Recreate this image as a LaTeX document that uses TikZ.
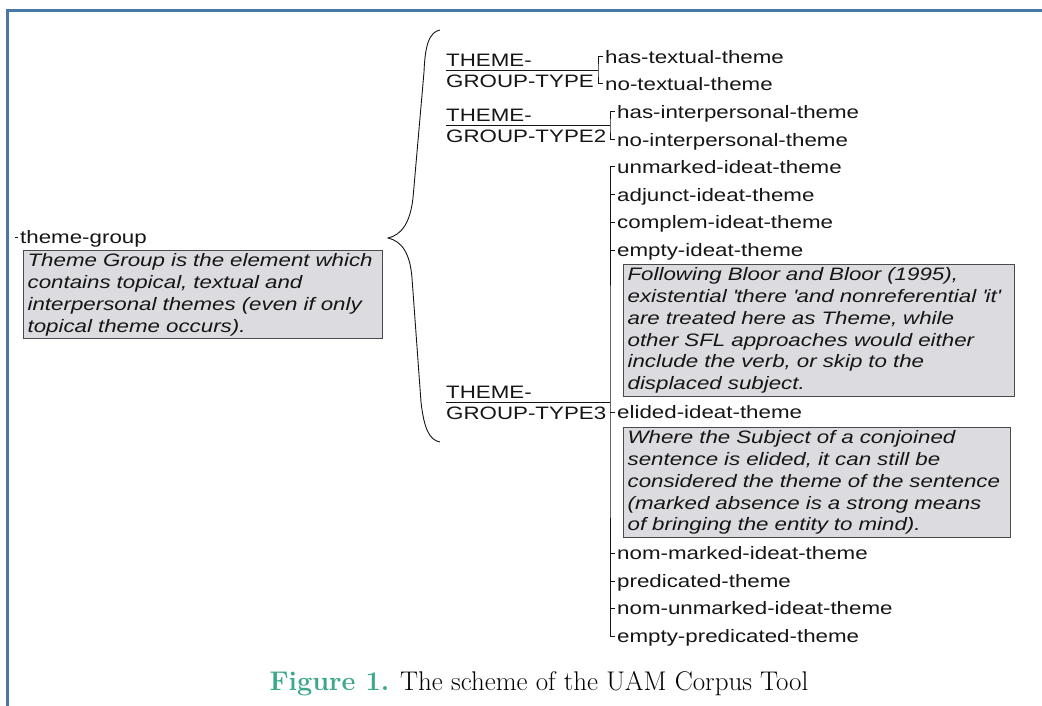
\documentclass[tikz,border=0pt]{standalone}
\usepackage{fontspec}
\newfontfamily\uamfont[FakeStretch=1.24]{Liberation Sans}
\usetikzlibrary{calc}
\definecolor{uamframe}{HTML}{4A78A6}
\definecolor{uamnote}{HTML}{DCDCE0}
\definecolor{uamedge}{HTML}{4A4A4A}
\definecolor{uamtext}{HTML}{151515}
\definecolor{figteal}{HTML}{3AA889}
\tikzset{
  feature/.style={
    anchor=west,
    inner xsep=2pt,
    inner ysep=0pt,
    text height=16pt,
    text depth=3pt,
    font=\uamfont\fontsize{18}{22}\selectfont,
    text=uamtext
  },
  sysname/.style={feature, anchor=base west, inner xsep=0pt},
  gloss/.style={
    draw=uamedge,
    line width=1.2pt,
    fill=uamnote,
    anchor=north west,
    align=left,
    inner xsep=4pt,
    inner ysep=3pt,
    font=\uamfont\itshape\fontsize{18}{21.8}\selectfont,
    text=uamtext
  },
  rule/.style={draw=uamtext, line width=1pt},
  frame/.style={draw=uamframe, line width=3pt}
}

\begin{document}
\begin{tikzpicture}[x=1pt,y=-1pt]
\useasboundingbox (0,0) rectangle (1042,706);

% page frame
\draw[frame] (7,706) -- (7,10.5) -- (1042,10.5);

% root feature and its gloss
\node[feature] (root) at (18,237) {theme-group};
\coordinate (stub) at (15,237);
\draw[rule, line width=0.6pt] (stub) -- (root.west);
\node[gloss, text width=351pt] (rootnote) at (23,250)
  {Theme Group is the element which\\contains topical, textual and\\interpersonal themes (even if only\\topical theme occurs).};

% the brace
\coordinate (btop) at (440,30);
\coordinate (btip) at (388,238);
\coordinate (bbot) at (440,442);
\draw[rule, line width=0.9pt] (btop) .. controls (429,32) and (425,46) .. (424,72)
  -- (413,198) .. controls (410,224) and (401,235) .. (btip)
  .. controls (401,241) and (410,252) .. (412,278)
  -- (421,402) .. controls (424,428) and (429,440) .. (bbot);

% THEME-GROUP-TYPE
\coordinate (g1) at (446,71);
\coordinate (b1) at (598,71);
\node[sysname] (g1top) at (446,67) {THEME-};
\node[sysname] (g1bot) at (446,88) {GROUP-TYPE};
\node[feature] (hastext) at (603,57) {has-textual-theme};
\node[feature] (notext) at (603,84) {no-textual-theme};
\draw[rule] (g1) -- (b1);
\draw[rule] (hastext.west) -| (b1) |- (notext.west);

% THEME-GROUP-TYPE2
\coordinate (g2) at (446,126);
\coordinate (b2) at (610,126);
\node[sysname] (g2top) at (446,122) {THEME-};
\node[sysname] (g2bot) at (446,143) {GROUP-TYPE2};
\node[feature] (hasinter) at (615,112) {has-interpersonal-theme};
\node[feature] (nointer) at (615,140) {no-interpersonal-theme};
\draw[rule] (g2) -- (b2);
\draw[rule] (hasinter.west) -| (b2) |- (nointer.west);

% THEME-GROUP-TYPE3
\coordinate (g3) at (446,402);
\coordinate (b3) at (610,402);
\node[sysname] (g3top) at (446,398) {THEME-};
\node[sysname] (g3bot) at (446,419) {GROUP-TYPE3};
\node[feature] (unmarked) at (615,167) {unmarked-ideat-theme};
\node[feature] (adjunct) at (615,195) {adjunct-ideat-theme};
\node[feature] (complem) at (615,222) {complem-ideat-theme};
\node[feature] (emptyid) at (615,250) {empty-ideat-theme};
\node[gloss, text width=383pt] (emptynote) at (623,264)
  {Following Bloor and Bloor (1995),\\existential \textquotesingle there \textquotesingle and nonreferential \textquotesingle it\textquotesingle\\are treated here as Theme, while\\other SFL approaches would either\\include the verb, or skip to the\\displaced subject.};
\node[feature] (elided) at (615,412) {elided-ideat-theme};
\node[gloss, text width=379pt] (elidednote) at (623,427)
  {Where the Subject of a conjoined\\sentence is elided, it can still be\\considered the theme of the sentence\\(marked absence is a strong means\\of bringing the entity to mind).};
\node[feature] (nommarked) at (615,553) {nom-marked-ideat-theme};
\node[feature] (predicated) at (615,581) {predicated-theme};
\node[feature] (nomunmarked) at (615,608) {nom-unmarked-ideat-theme};
\node[feature] (emptypred) at (615,636) {empty-predicated-theme};
\draw[rule] (g3) -- (b3);
\draw[rule] (unmarked.west) -| (b3) |- (emptypred.west);
\foreach \f in {adjunct,complem,emptyid,elided,nommarked,predicated,nomunmarked}
  \draw[rule] (b3 |- \f.west) -- (\f.west);

% caption
\node[font=\fontsize{27}{30}\selectfont] (caption) at (539,684)
  {\textcolor{figteal}{\bfseries Figure \oldstylenums{1}.} The scheme of the UAM Corpus Tool};
\end{tikzpicture}
\end{document}
